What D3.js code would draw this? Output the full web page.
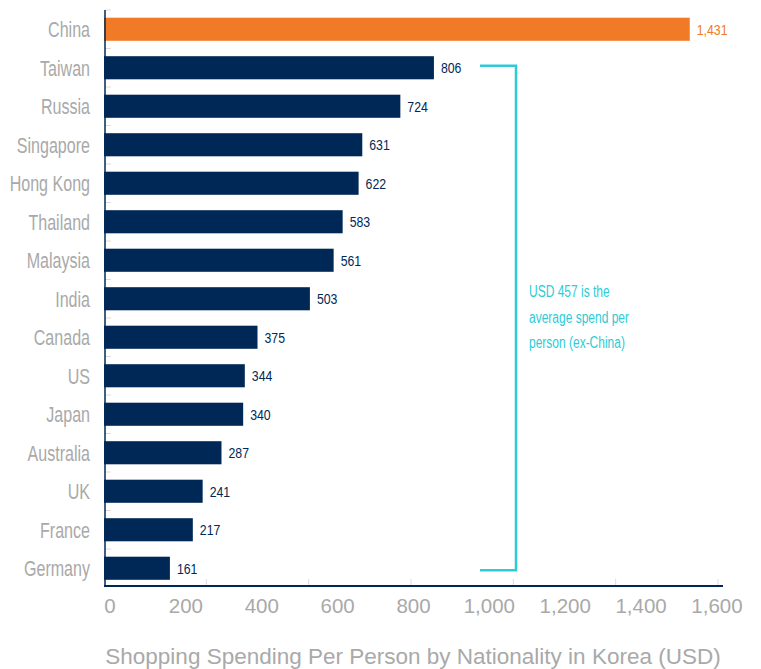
<!DOCTYPE html>
<html>
<head>
<meta charset="utf-8">
<script src="https://cdn.jsdelivr.net/npm/d3@7"></script>
<style>
  body { margin: 0; background: #fff; }
  svg { display: block; font-family: 'Liberation Sans', Arial, sans-serif; }
</style>
</head>
<body>
<div id="chart"></div>
<script>
const countries = ['China', 'Taiwan', 'Russia', 'Singapore', 'Hong Kong', 'Thailand', 'Malaysia',
  'India', 'Canada', 'US', 'Japan', 'Australia', 'UK', 'France', 'Germany']
const spend = [1431, 806, 724, 631, 622, 583, 561, 503, 375, 344, 340, 287, 241, 217, 161]
const gridTicks = [0, 250, 500, 750, 1000, 1250, 1500]
const tickLabels = [0, 200, 400, 600, 800, 1000, 1200, 1400, 1600]
const noteLines = ['USD 457 is the', 'average spend per', 'person (ex-China)']
const axisTitle = 'Shopping Spending Per Person by Nationality in Korea (USD)'

const NAVY = '#002856'
const ORANGE = '#f07a25'
const CYAN = '#2dcbd6'
const GREY = '#a9a9a9'

const width = 761
const height = 669
const data = countries.map((c, i) => ({ country: c, value: spend[i] }))

const svg = d3.select('#chart').append('svg')
  .attr('width', width)
  .attr('height', height)

// scales
const x = d3.scaleLinear().domain([0, 1500]).range([104, 718])
const xLabel = d3.scaleLinear().domain([0, 1600]).range([110, 717]) // printed labels don't line up with bars
const y = d3.scaleBand()
  .domain(countries)
  .range([10, 587.5])
  .paddingInner(0.4)
  .paddingOuter(0.2)

const gap = y.step() - y.bandwidth()

// faint ticks between rows
svg.append('g')
  .selectAll('line')
  .data(countries)
  .join('line')
  .attr('x1', 105)
  .attr('x2', 111)
  .attr('y1', d => y(d) - gap / 2)
  .attr('y2', d => y(d) - gap / 2)
  .attr('stroke', '#dcdcdc')

// faint ticks above x axis
svg.append('g')
  .selectAll('line')
  .data(gridTicks.slice(1))
  .join('line')
  .attr('x1', d => x(d))
  .attr('x2', d => x(d))
  .attr('y1', 579)
  .attr('y2', 586)
  .attr('stroke', '#dcdcdc')

// bars
svg.append('g')
  .selectAll('rect')
  .data(data)
  .join('rect')
  .attr('x', x(0))
  .attr('y', d => y(d.country))
  .attr('width', d => x(d.value) - x(0))
  .attr('height', y.bandwidth())
  .attr('fill', (d, i) => i === 0 ? ORANGE : NAVY)

// value labels (condensed look)
svg.append('g')
  .selectAll('text')
  .data(data)
  .join('text')
  .attr('transform', d => `translate(${x(d.value) + 7},${y(d.country) + y.bandwidth() / 2}) scale(0.82,1)`)
  .attr('dy', '0.36em')
  .attr('font-size', 15)
  .attr('fill', (d, i) => i === 0 ? ORANGE : NAVY)
  .text(d => d3.format(',')(d.value))

// category labels
svg.append('g')
  .selectAll('text')
  .data(countries)
  .join('text')
  .attr('transform', d => `translate(90,${y(d) + y.bandwidth() / 2}) scale(0.73,1)`)
  .attr('dy', '0.36em')
  .attr('text-anchor', 'end')
  .attr('font-size', 22)
  .attr('fill', GREY)
  .text(d => d)

// axis lines
svg.append('line')
  .attr('x1', 105).attr('x2', 105)
  .attr('y1', 10).attr('y2', 587)
  .attr('stroke', NAVY)
  .attr('stroke-width', 1.5)

svg.append('line')
  .attr('x1', 104).attr('x2', 723)
  .attr('y1', 586).attr('y2', 586)
  .attr('stroke', NAVY)
  .attr('stroke-width', 2)

// x tick labels
svg.append('g')
  .selectAll('text')
  .data(tickLabels)
  .join('text')
  .attr('x', d => xLabel(d))
  .attr('y', 613)
  .attr('text-anchor', 'middle')
  .attr('font-size', 20.5)
  .attr('fill', GREY)
  .text(d => d3.format(',')(d))

svg.append('text')
  .attr('x', 413)
  .attr('y', 664)
  .attr('text-anchor', 'middle')
  .attr('font-size', 22.5)
  .attr('fill', GREY)
  .text(axisTitle)

// bracket for the ex-China group
const yTop = y('Taiwan') + y.bandwidth() / 2 - 2
const yBot = y('Germany') + y.bandwidth() / 2 + 2
svg.append('path')
  .attr('d', `M480,${yTop}H516V${yBot}H480`)
  .attr('fill', 'none')
  .attr('stroke', CYAN)
  .attr('stroke-width', 2.5)

svg.append('g')
  .selectAll('text')
  .data(noteLines)
  .join('text')
  .attr('transform', (d, i) => `translate(529,${297 + i * 25.5}) scale(0.75,1)`)
  .attr('font-size', 16)
  .attr('fill', CYAN)
  .text(d => d)
</script>
</body>
</html>
